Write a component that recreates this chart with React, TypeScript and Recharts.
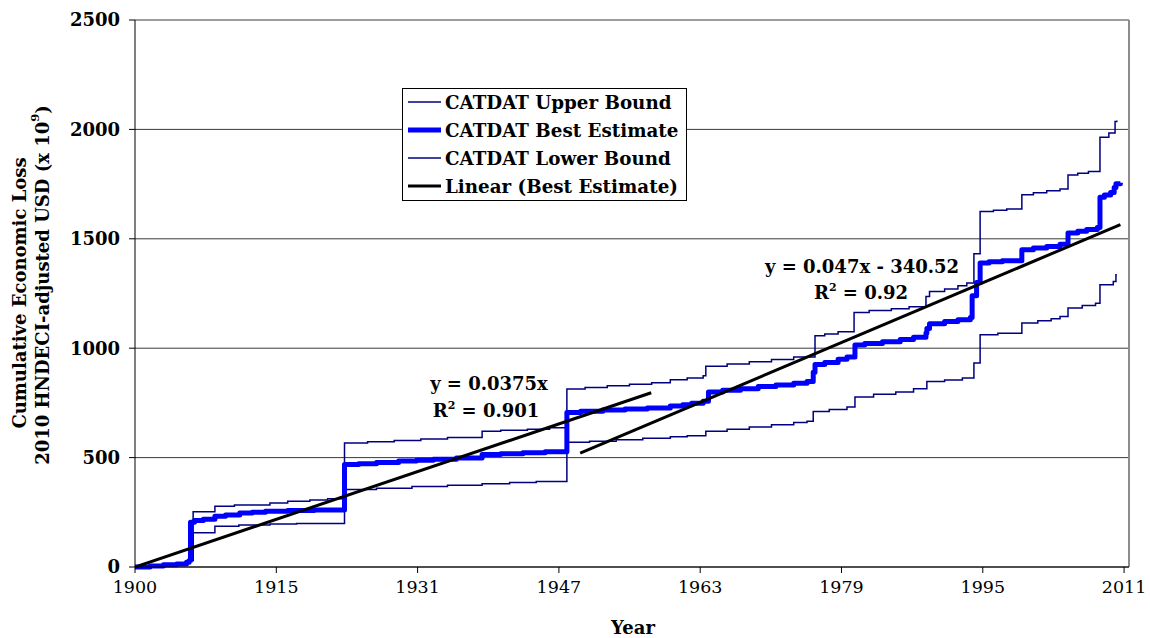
import React from 'react';
import {
  LineChart,
  Line,
  XAxis,
  YAxis,
  CartesianGrid,
  ReferenceLine,
} from 'recharts';

// Cumulative economic loss, 2010 HNDECI-adjusted USD (billions), by decimal year.
const BEST_ESTIMATE = [
  { year: 1900.0, loss: 0 }, { year: 1901.7, loss: 5 }, { year: 1903.2, loss: 10 },
  { year: 1904.7, loss: 14 }, { year: 1905.8, loss: 22 }, { year: 1906.1, loss: 30 },
  { year: 1906.25, loss: 205 }, { year: 1906.7, loss: 212 }, { year: 1907.7, loss: 218 },
  { year: 1909.0, loss: 232 }, { year: 1910.2, loss: 238 }, { year: 1911.8, loss: 247 },
  { year: 1913.2, loss: 250 }, { year: 1914.7, loss: 255 }, { year: 1917.2, loss: 258 },
  { year: 1920.2, loss: 260 }, { year: 1923.6, loss: 468 }, { year: 1925.2, loss: 472 },
  { year: 1927.2, loss: 478 }, { year: 1929.7, loss: 484 }, { year: 1931.7, loss: 488 },
  { year: 1933.6, loss: 493 }, { year: 1936.2, loss: 498 }, { year: 1939.1, loss: 514 },
  { year: 1941.2, loss: 518 }, { year: 1943.7, loss: 522 }, { year: 1946.2, loss: 527 },
  { year: 1948.65, loss: 706 }, { year: 1950.2, loss: 712 }, { year: 1952.7, loss: 718 },
  { year: 1955.2, loss: 722 }, { year: 1957.7, loss: 727 }, { year: 1960.3, loss: 736 },
  { year: 1961.7, loss: 742 }, { year: 1962.7, loss: 748 }, { year: 1964.0, loss: 757 },
  { year: 1964.6, loss: 800 }, { year: 1966.2, loss: 808 }, { year: 1968.2, loss: 815 },
  { year: 1970.2, loss: 825 }, { year: 1972.2, loss: 832 }, { year: 1974.2, loss: 840 },
  { year: 1975.7, loss: 848 }, { year: 1976.4, loss: 890 }, { year: 1976.6, loss: 925 },
  { year: 1977.7, loss: 935 }, { year: 1979.2, loss: 950 }, { year: 1980.2, loss: 960 },
  { year: 1981.1, loss: 1015 }, { year: 1982.2, loss: 1022 }, { year: 1984.2, loss: 1030 },
  { year: 1986.2, loss: 1040 }, { year: 1987.7, loss: 1050 }, { year: 1989.1, loss: 1069 },
  { year: 1989.2, loss: 1090 }, { year: 1989.5, loss: 1112 }, { year: 1991.2, loss: 1122 },
  { year: 1992.7, loss: 1130 }, { year: 1994.1, loss: 1140 }, { year: 1994.3, loss: 1240 },
  { year: 1994.8, loss: 1300 }, { year: 1995.2, loss: 1389 }, { year: 1996.2, loss: 1395 },
  { year: 1997.7, loss: 1400 }, { year: 1999.9, loss: 1450 }, { year: 2001.2, loss: 1458 },
  { year: 2002.7, loss: 1465 }, { year: 2004.2, loss: 1475 }, { year: 2005.1, loss: 1526 },
  { year: 2006.2, loss: 1535 }, { year: 2007.2, loss: 1542 }, { year: 2008.4, loss: 1552 },
  { year: 2008.7, loss: 1690 }, { year: 2009.2, loss: 1700 }, { year: 2009.9, loss: 1712 },
  { year: 2010.3, loss: 1735 }, { year: 2010.5, loss: 1752 }, { year: 2011.0, loss: 1756 },
];

const UPPER_BOUND = [
  { year: 1900.0, loss: 0 }, { year: 1901.7, loss: 5 }, { year: 1903.2, loss: 10 },
  { year: 1904.7, loss: 14 }, { year: 1905.8, loss: 22 }, { year: 1906.1, loss: 30 },
  { year: 1906.55, loss: 252 }, { year: 1909.0, loss: 278 }, { year: 1911.2, loss: 283 },
  { year: 1915.2, loss: 293 }, { year: 1917.2, loss: 300 }, { year: 1919.7, loss: 306 },
  { year: 1921.7, loss: 312 }, { year: 1923.6, loss: 567 }, { year: 1926.2, loss: 572 },
  { year: 1929.2, loss: 578 }, { year: 1932.2, loss: 585 }, { year: 1935.2, loss: 592 },
  { year: 1939.1, loss: 620 }, { year: 1941.2, loss: 625 }, { year: 1944.2, loss: 630 },
  { year: 1946.7, loss: 636 }, { year: 1948.65, loss: 814 }, { year: 1950.7, loss: 820 },
  { year: 1953.2, loss: 828 }, { year: 1955.7, loss: 835 }, { year: 1958.2, loss: 842 },
  { year: 1960.3, loss: 856 }, { year: 1962.2, loss: 864 }, { year: 1964.0, loss: 874 },
  { year: 1964.3, loss: 917 }, { year: 1966.7, loss: 928 }, { year: 1969.2, loss: 938 },
  { year: 1971.7, loss: 948 }, { year: 1974.2, loss: 960 }, { year: 1976.6, loss: 1057 },
  { year: 1977.7, loss: 1065 }, { year: 1979.2, loss: 1075 }, { year: 1981.0, loss: 1163 },
  { year: 1982.7, loss: 1172 }, { year: 1985.2, loss: 1180 }, { year: 1987.2, loss: 1190 },
  { year: 1989.1, loss: 1236 }, { year: 1989.5, loss: 1259 }, { year: 1991.2, loss: 1270 },
  { year: 1992.7, loss: 1285 }, { year: 1993.7, loss: 1298 }, { year: 1994.5, loss: 1432 },
  { year: 1995.2, loss: 1625 }, { year: 1996.7, loss: 1630 }, { year: 1998.2, loss: 1636 },
  { year: 1999.9, loss: 1701 }, { year: 2001.2, loss: 1710 }, { year: 2002.7, loss: 1720 },
  { year: 2004.2, loss: 1728 }, { year: 2005.1, loss: 1792 }, { year: 2006.2, loss: 1800 },
  { year: 2007.4, loss: 1808 }, { year: 2008.7, loss: 1964 }, { year: 2009.7, loss: 1983 },
  { year: 2010.4, loss: 2036 }, { year: 2010.6, loss: 2041 },
];

const LOWER_BOUND = [
  { year: 1900.0, loss: 0 }, { year: 1901.7, loss: 5 }, { year: 1903.2, loss: 10 },
  { year: 1904.7, loss: 14 }, { year: 1905.8, loss: 22 }, { year: 1906.1, loss: 30 },
  { year: 1906.55, loss: 156 }, { year: 1909.0, loss: 186 }, { year: 1911.7, loss: 192 },
  { year: 1915.2, loss: 197 }, { year: 1918.2, loss: 199 }, { year: 1923.6, loss: 354 },
  { year: 1927.2, loss: 360 }, { year: 1931.2, loss: 368 }, { year: 1935.2, loss: 374 },
  { year: 1939.1, loss: 381 }, { year: 1942.2, loss: 386 }, { year: 1945.2, loss: 391 },
  { year: 1948.65, loss: 570 }, { year: 1951.2, loss: 575 }, { year: 1954.2, loss: 582 },
  { year: 1957.2, loss: 588 }, { year: 1960.3, loss: 595 }, { year: 1962.2, loss: 600 },
  { year: 1964.3, loss: 620 }, { year: 1966.7, loss: 630 }, { year: 1969.2, loss: 640 },
  { year: 1971.7, loss: 650 }, { year: 1974.2, loss: 660 }, { year: 1975.7, loss: 666 },
  { year: 1976.4, loss: 711 }, { year: 1978.2, loss: 720 }, { year: 1980.2, loss: 731 },
  { year: 1981.1, loss: 777 }, { year: 1983.2, loss: 790 }, { year: 1985.7, loss: 800 },
  { year: 1987.7, loss: 815 }, { year: 1989.2, loss: 848 }, { year: 1991.2, loss: 855 },
  { year: 1993.2, loss: 864 }, { year: 1994.5, loss: 932 }, { year: 1995.2, loss: 1062 },
  { year: 1997.2, loss: 1068 }, { year: 1999.9, loss: 1115 }, { year: 2001.7, loss: 1125 },
  { year: 2003.2, loss: 1135 }, { year: 2004.2, loss: 1145 }, { year: 2005.1, loss: 1184 },
  { year: 2006.7, loss: 1195 }, { year: 2008.2, loss: 1206 }, { year: 2008.7, loss: 1290 },
  { year: 2010.2, loss: 1305 }, { year: 2010.5, loss: 1336 }, { year: 2010.6, loss: 1336 },
];

// Linear fits, x measured in days since 1 Jan 1900.
const FIT_EARLY = { slope: 0.0375, intercept: 0, from: 1900.0, to: 1958.15 };
const FIT_LATE = { slope: 0.047, intercept: -340.52, from: 1950.15, to: 2011.0 };

// Category axis: one label every 191 months starting January 1900.
const TICK_LABELS = ['1900', '1915', '1931', '1947', '1963', '1979', '1995', '2011'];
const TICK_STEP_MONTHS = 191;
const X_MIN = 1900;
const X_MAX = 2011.97;
const Y_TICKS = [0, 500, 1000, 1500, 2000, 2500];

const DAYS_PER_YEAR = 365.25;
const fitLine = (fit: { slope: number; intercept: number; from: number; to: number }) =>
  [fit.from, fit.to].map((year) => ({
    year,
    loss: fit.slope * (year - X_MIN) * DAYS_PER_YEAR + fit.intercept,
  }));

const X_TICKS = TICK_LABELS.map((_, i) => X_MIN + (i * TICK_STEP_MONTHS) / 12);

const FONT = '"DejaVu Serif", serif';
const NAVY = '#000080';
const BLUE = '#0000ff';

const LEGEND_ITEMS = [
  { label: 'CATDAT Upper Bound', color: NAVY, width: 1.5 },
  { label: 'CATDAT Best Estimate', color: BLUE, width: 5 },
  { label: 'CATDAT Lower Bound', color: NAVY, width: 1.5 },
  { label: 'Linear (Best Estimate)', color: '#000000', width: 3 },
];

export default function App() {
  return (
    <div style={{ position: 'fixed', left: 0, top: 0, width: 1150, height: 638, background: '#fff' }}>
      <LineChart width={1150} height={638} margin={{ top: 20, right: 21, bottom: 0, left: 0 }}>
        <CartesianGrid vertical={false} stroke="#3a3a3a" strokeWidth={1} />
        <XAxis
          dataKey="year"
          type="number"
          domain={[X_MIN, X_MAX]}
          ticks={X_TICKS}
          tickFormatter={(_v: number, i: number) => TICK_LABELS[i]}
          allowDataOverflow
          height={71}
          tickSize={6}
          tickMargin={8}
          stroke="#000"
          tick={{ fill: '#000', fontFamily: FONT, fontSize: 17.5 }}
          interval={0}
        />
        <YAxis
          type="number"
          domain={[0, 2500]}
          ticks={Y_TICKS}
          width={135}
          tickSize={6}
          tickMargin={9}
          stroke="#000"
          tick={{ fill: '#000', fontFamily: FONT, fontSize: 18, fontWeight: 'bold' }}
          interval={0}
        />
        <ReferenceLine x={X_MAX} stroke="#8c8c8c" strokeWidth={2} />
        <Line
          data={UPPER_BOUND}
          dataKey="loss"
          type="stepAfter"
          stroke={NAVY}
          strokeWidth={1.5}
          dot={false}
          isAnimationActive={false}
        />
        <Line
          data={LOWER_BOUND}
          dataKey="loss"
          type="stepAfter"
          stroke={NAVY}
          strokeWidth={1.5}
          dot={false}
          isAnimationActive={false}
        />
        <Line
          data={BEST_ESTIMATE}
          dataKey="loss"
          type="stepAfter"
          stroke={BLUE}
          strokeWidth={5}
          strokeLinejoin="round"
          dot={false}
          isAnimationActive={false}
        />
        <Line
          data={fitLine(FIT_EARLY)}
          dataKey="loss"
          type="linear"
          stroke="#000"
          strokeWidth={3}
          dot={false}
          isAnimationActive={false}
        />
        <Line
          data={fitLine(FIT_LATE)}
          dataKey="loss"
          type="linear"
          stroke="#000"
          strokeWidth={3}
          dot={false}
          isAnimationActive={false}
        />
      </LineChart>

      <svg
        width={1150}
        height={638}
        style={{ position: 'absolute', left: 0, top: 0, pointerEvents: 'none' }}
        fontFamily={FONT}
        fontWeight="bold"
      >
        {/* axis titles */}
        <g transform="translate(19,293) rotate(-90)">
          <text textAnchor="middle" dominantBaseline="central" fontSize={18}>
            Cumulative Economic Loss
          </text>
        </g>
        <g transform="translate(42,285) rotate(-90)">
          <text textAnchor="middle" dominantBaseline="central" fontSize={18}>
            2010 HNDECI-adjusted  USD (x 10
            <tspan fontSize={11.5} dy={-7}>9</tspan>
            <tspan dy={7}>)</tspan>
          </text>
        </g>
        <text x={633} y={634} textAnchor="middle" fontSize={18}>Year</text>

        {/* regression annotations */}
        <text x={489} y={390} textAnchor="middle" fontSize={18}>y = 0.0375x</text>
        <text x={486} y={417} textAnchor="middle" fontSize={18}>
          R<tspan fontSize={11} dy={-8}>2</tspan>
          <tspan dy={8}> = 0.901</tspan>
        </text>
        <text x={862} y={273} textAnchor="middle" fontSize={18}>y = 0.047x - 340.52</text>
        <text x={861} y={299} textAnchor="middle" fontSize={18}>
          R<tspan fontSize={11} dy={-8}>2</tspan>
          <tspan dy={8}> = 0.92</tspan>
        </text>

        {/* legend */}
        <rect x={402.5} y={88.5} width={284} height={112} fill="#fff" stroke="#000" strokeWidth={1} />
        {LEGEND_ITEMS.map((item, i) => {
          const cy = 102 + i * 28;
          return (
            <g key={item.label}>
              <line x1={408} x2={441} y1={cy} y2={cy} stroke={item.color} strokeWidth={item.width} />
              <text x={445} y={cy} dominantBaseline="central" fontSize={18.3}>
                {item.label}
              </text>
            </g>
          );
        })}
      </svg>
    </div>
  );
}
